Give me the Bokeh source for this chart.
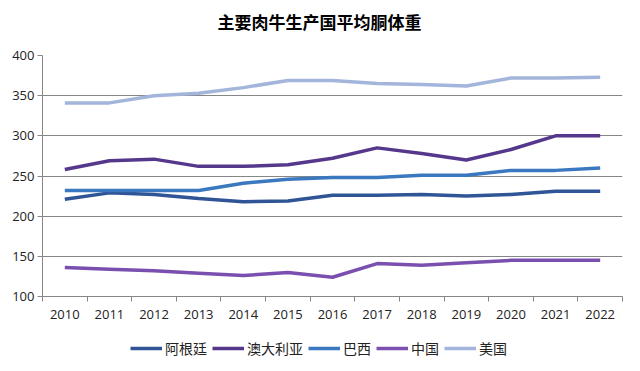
from bokeh.plotting import figure
from bokeh.models import FixedTicker, Legend, LegendItem, Range1d, Label
from bokeh.layouts import column
from bokeh.embed import file_html
from bokeh.resources import INLINE

years = ["2010", "2011", "2012", "2013", "2014", "2015", "2016",
         "2017", "2018", "2019", "2020", "2021", "2022"]
argentina = [221, 229, 227, 222, 218, 219, 226, 226, 227, 225, 227, 231, 231]
australia = [258, 269, 271, 262, 262, 264, 272, 285, 278, 270, 283, 300, 300]
brazil = [232, 232, 232, 232, 241, 246, 248, 248, 251, 251, 257, 257, 260]
china = [136, 134, 132, 129, 126, 130, 124, 141, 139, 142, 145, 145, 145]
usa = [341, 341, 350, 353, 360, 369, 369, 365, 364, 362, 372, 372, 373]

series_names = ["阿根廷", "澳大利亚", "巴西", "中国", "美国"]
series_vals = [argentina, australia, brazil, china, usa]
colors = ["#2F5597", "#55388C", "#3A78C0", "#7A4FB0", "#A3B5DA"]
y_ticks = [100, 150, 200, 250, 300, 350, 400]
title_text = "主要肉牛生产国平均胴体重"

xs = list(range(len(years)))


def blank_fig(h):
    f = figure(width=640, height=h, output_backend="svg", toolbar_location=None,
               x_axis_type=None, y_axis_type=None, min_border=0,
               x_range=Range1d(0, 1), y_range=Range1d(0, 1))
    f.outline_line_color = None
    f.xgrid.grid_line_color = None
    f.ygrid.grid_line_color = None
    f.background_fill_color = "white"
    f.border_fill_color = "white"
    return f


# --- title strip ---
tf = blank_fig(40)
tf.add_layout(Label(x=277, y=19, x_units="screen", y_units="screen",
                    text=title_text, text_font="Noto Sans CJK SC",
                    text_font_size="17px", text_font_style="bold",
                    text_color="#000000", text_align="center",
                    text_baseline="middle"))

# --- main chart ---
p = figure(width=640, height=290, output_backend="svg", toolbar_location=None,
           x_range=Range1d(-0.5, len(years) - 0.5), y_range=Range1d(100, 400),
           min_border_left=42, min_border_right=18, min_border_top=15,
           min_border_bottom=34)
p.outline_line_color = None
p.background_fill_color = "white"
p.border_fill_color = "white"

for name, vals, c in zip(series_names, series_vals, colors):
    p.line(xs, vals, line_color=c, line_width=3.5)

p.xaxis.ticker = FixedTicker(ticks=xs, minor_ticks=[i - 0.5 for i in range(len(years) + 1)])
p.xaxis.major_label_overrides = {i: y for i, y in enumerate(years)}
p.xaxis.major_tick_line_color = None
p.xaxis.minor_tick_line_color = "#868686"
p.xaxis.minor_tick_out = 5
p.xaxis.minor_tick_in = 0
p.xaxis.axis_line_color = "#868686"
p.xaxis.major_label_text_font = "Open Sans"
p.xaxis.major_label_text_font_size = "13px"
p.xaxis.major_label_text_color = "#222222"
p.xaxis.major_label_standoff = 7

p.yaxis.ticker = FixedTicker(ticks=y_ticks)
p.yaxis.major_tick_line_color = "#868686"
p.yaxis.major_tick_out = 5
p.yaxis.major_tick_in = 0
p.yaxis.minor_tick_line_color = None
p.yaxis.axis_line_color = "#868686"
p.yaxis.major_label_text_font = "Open Sans"
p.yaxis.major_label_text_font_size = "13px"
p.yaxis.major_label_text_color = "#222222"
p.yaxis.major_label_standoff = 3

p.xgrid.grid_line_color = None
p.ygrid.ticker = FixedTicker(ticks=y_ticks[1:])
p.ygrid.grid_line_color = "#868686"
p.ygrid.grid_line_width = 1

# --- legend strip ---
lf = blank_fig(41)
lf.y_range = Range1d(1000, 1001)  # series drawn out of view; used only as legend keys
items = []
for name, vals, c in zip(series_names, series_vals, colors):
    r = lf.line(xs, vals, line_color=c, line_width=3.5)
    items.append(LegendItem(label=name, renderers=[r]))
legend = Legend(items=items, orientation="horizontal", location=(88, 13),
                glyph_width=32, glyph_height=14, label_standoff=3, spacing=5,
                label_height=14, padding=0, margin=0, border_line_color=None,
                background_fill_alpha=0,
                label_text_font="Noto Sans CJK SC", label_text_font_size="14px",
                label_text_color="#222222")
lf.add_layout(legend, "center")

layout = column(tf, p, lf, spacing=0)
open("out.html", "w").write(file_html(layout, INLINE))
